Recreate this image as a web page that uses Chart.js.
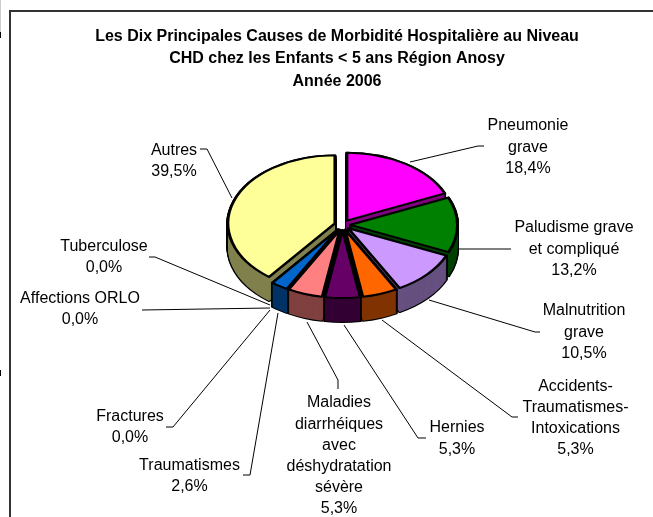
<!DOCTYPE html>
<html><head><meta charset="utf-8">
<style>html,body{margin:0;padding:0;background:#fff}canvas{display:block}</style>
<script src="https://cdn.jsdelivr.net/npm/chart.js@4/dist/chart.umd.min.js"></script>
</head><body>
<canvas id="c" width="653" height="517"></canvas>
<script>
const titleLines = ["Les Dix Principales Causes de Morbidité Hospitalière au Niveau","CHD chez les Enfants < 5 ans Région Anosy","Année 2006"];
const categories = ["Pneumonie grave","Paludisme grave et compliqué","Malnutrition grave","Accidents-Traumatismes-Intoxications","Hernies","Maladies diarrhéiques avec déshydratation sévère","Traumatismes","Fractures","Affections ORLO","Tuberculose","Autres"];
const values = [18.4,13.2,10.5,5.3,5.3,5.3,2.6,0,0,0,39.5];
const topColors = ["#FF00FF","#008000","#CC99FF","#FF6600","#660066","#FF8080","#0066CC","#FFFFFF","#FFFFFF","#FFFFFF","#FFFF99"];
const sideColors = ["#800080","#004000","#665080","#803300","#330033","#804040","#003366","#808080","#808080","#808080","#80804D"];
const labelLines = [["Pneumonie","grave"],["Paludisme grave","et compliqué"],["Malnutrition","grave"],["Accidents-","Traumatismes-","Intoxications"],["Hernies"],["Maladies","diarrhéiques","avec","déshydratation","sévère"],["Traumatismes"],["Fractures"],["Affections ORLO"],["Tuberculose"],["Autres"]];
// annotation layout: text centre x, first line centre y, line step
const labelPos = [[528,126,21.5],[574,228,21.5],[584,311,21.5],[575.5,387,21],[457,428,21.5],[339,403,21.2],[189.5,466,21],[130,417,21],[80,299,21],[104,247,21],[174,151,21]];
const leaders = [
 [[410,162],[478,146],[484,146]],
 [[459,249],[511,249]],
 [[429,300],[535,332],[540,332]],
 [[382,320],[512,417],[518,417]],
 [[344,325],[418,438],[426,438]],
 [[307,322],[338,380],[338,389]],
 [[278,313],[250,475],[243,475]],
 [[270,310],[173,427],[166,427]],
 [[270,308],[142,310]],
 [[270,305],[155,257],[149,257]],
 [[232,198],[207,149],[200,149]]
];
const FONT = '"Liberation Sans", Arial, sans-serif';
const PIE = {cx:342.5, cy:225, squash:0.635, depth:24, explode:8, border:3};

const pie3d = {
  id:'pie3d',
  beforeDatasetDraw(chart, args){
    const ctx = chart.ctx, arcs = args.meta.data;
    const order = arcs.map((a,i)=>i).sort((p,q)=>{
      const m=a=>(a.startAngle+a.endAngle)/2;
      return Math.sin(m(arcs[p]))-Math.sin(m(arcs[q]));
    });
    const paint=(arc,dy,fill,stroke,bw)=>{
      const half=(arc.startAngle+arc.endAngle)/2;
      const e=Object.create(arc);
      e.options={backgroundColor:fill,borderColor:stroke,borderWidth:bw,borderAlign:'center',borderJoinStyle:'round',borderRadius:0,offset:0,spacing:0,angle:undefined,circular:true,borderDash:[],borderDashOffset:0};
      ctx.save();
      ctx.translate(PIE.cx,PIE.cy+dy);
      ctx.scale(1,PIE.squash);
      ctx.translate(Math.cos(half)*PIE.explode,Math.sin(half)*PIE.explode);
      ctx.translate(-arc.x,-arc.y);
      e.draw(ctx);
      ctx.restore();
    };
    order.forEach(i=>{
      const arc=arcs[i];
      if(!(arc.circumference>0)) return;
      for(let d=PIE.depth;d>=0;d--) paint(arc,d,'#000','#000',PIE.border);
      for(let d=PIE.depth;d>=1;d--) paint(arc,d,sideColors[i],sideColors[i],0);
      paint(arc,0,topColors[i],'#000',PIE.border);
    });
    return false;
  },
  afterDraw(chart){
    const ctx=chart.ctx;
    ctx.save();
    // frame
    ctx.strokeStyle='#333';ctx.lineWidth=2;
    ctx.beginPath();ctx.moveTo(10,517);ctx.lineTo(10,11);ctx.lineTo(653,11);ctx.stroke();
    ctx.fillStyle='#ccc';ctx.fillRect(0,0,1,32);
    ctx.fillStyle='#000';ctx.fillRect(0,32,1,6);ctx.fillRect(0,370,1,6);
    // leaders
    ctx.strokeStyle='#000';ctx.lineWidth=1;
    leaders.forEach(l=>{ctx.beginPath();l.forEach((p,i)=>i?ctx.lineTo(p[0],p[1]):ctx.moveTo(p[0],p[1]));ctx.stroke();});
    // labels
    ctx.fillStyle='#000';ctx.font='16px '+FONT;ctx.textAlign='center';ctx.textBaseline='middle';
    labelLines.forEach((ls,i)=>{
      const [x,y,st]=labelPos[i];
      const all=ls.concat(values[i].toFixed(1).replace('.',',')+'%');
      all.forEach((t,k)=>ctx.fillText(t,x,y+k*st));
    });
    ctx.restore();
  }
};

new Chart(document.getElementById('c'),{
  type:'pie',
  data:{labels:categories,datasets:[{data:values,backgroundColor:topColors,borderColor:'#000',borderWidth:PIE.border,offset:PIE.explode}]},
  options:{
    responsive:false,animation:false,devicePixelRatio:1,radius:107,
    layout:{padding:{left:21,top:25,right:0,bottom:0}},
    plugins:{
      legend:{display:false},tooltip:{enabled:false},
      title:{display:true,text:titleLines,color:'#000',padding:{top:0,bottom:0},font:{family:FONT,size:16,weight:'bold',lineHeight:1.41}}
    }
  },
  plugins:[pie3d]
});
</script>
</body></html>
